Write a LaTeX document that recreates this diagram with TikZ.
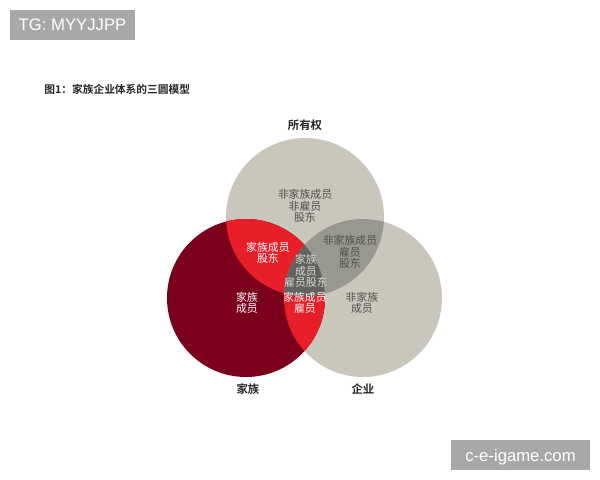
\documentclass[tikz,border=0pt]{standalone}
\usepackage{fontspec}
\setmainfont{Liberation Sans}
\newfontfamily\cjk{Noto Sans CJK SC}
\newfontfamily\cjkbold{Noto Sans CJK SC Bold}
\definecolor{vgrey}{RGB}{201,199,187}
\definecolor{vmid}{RGB}{152,152,144}
\definecolor{vdark}{RGB}{98,98,96}
\definecolor{vwine}{RGB}{122,0,28}
\definecolor{vred}{RGB}{232,30,40}
\definecolor{tagbox}{RGB}{168,168,168}
\definecolor{txtgrey}{RGB}{80,80,76}

\begin{document}
\begin{tikzpicture}
            [x=0.02cm, y=-0.02cm, every node/.style={inner sep=0, align=center},
             region/.style={font=\cjk\fontsize{6.2}{6.6}\selectfont, text=txtgrey},
             inred/.style={region, text=white},
             head/.style={font=\cjkbold\fontsize{6.5}{7}\selectfont, text=black!85},
             tag/.style={fill=tagbox, text=white, font=\fontsize{9.5}{10}\selectfont, minimum height=30*0.02cm, text depth=0pt}]

            \useasboundingbox (0, 0) rectangle (600, 480);

            \def\own{(305, 217) circle (79)}
            \def\fam{(246, 298) circle (79)}
            \def\ent{(363, 298) circle (79)}

            \fill[vgrey] \own;
            \fill[vgrey] \ent;
            \fill[vwine] \fam;
            \begin{scope}
              \clip \fam;
              \fill[vred] \own;
              \fill[vred] \ent;
            \end{scope}
            \begin{scope}
              \clip \own;
              \fill[vmid] \ent;
              \clip \ent;
              \fill[vdark] \fam;
            \end{scope}

            \node[tag, minimum width=125*0.02cm] (tg) at (72.5, 25) {TG: MYYJJPP};
            \node[tag, minimum width=139*0.02cm] (site) at (520.5, 455) {c-e-igame.com};

            \node[head, anchor=west, font=\cjkbold\fontsize{6.1}{7}\selectfont] (title) at (44, 89) {图1：家族企业体系的三圆模型};
            \node[head] (owner) at (305, 125) {所有权};
            \node[head] (family) at (248, 389) {家族};
            \node[head] (firm) at (363, 389) {企业};

            \node[region] (o) at (305, 206) {非家族成员\\非雇员\\股东};
            \node[inred] (fo) at (268, 253) {家族成员\\股东};
            \node[region] (oe) at (350, 252) {非家族成员\\雇员\\股东};
            \node[inred, text=vgrey!70!white] (foe) at (306, 271) {家族\\成员\\雇员股东};
            \node[inred] (f) at (247, 303) {家族\\成员};
            \node[inred] (fe) at (305, 303) {家族成员\\雇员};
            \node[region] (e) at (362, 303) {非家族\\成员};
          \end{tikzpicture}
\end{document}
